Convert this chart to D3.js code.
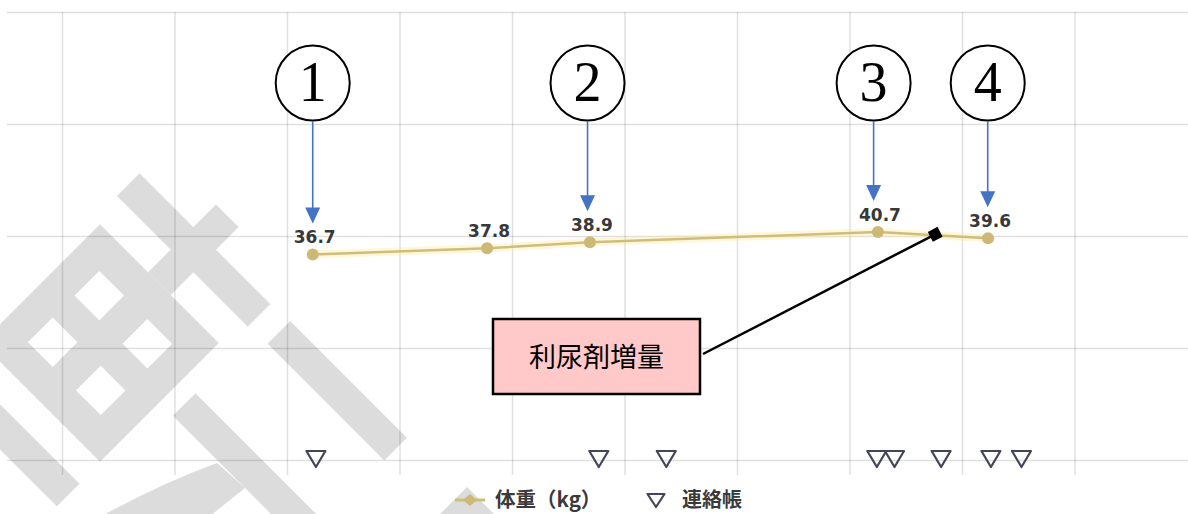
<!DOCTYPE html>
<html>
<head>
<meta charset="utf-8">
<script src="https://cdn.jsdelivr.net/npm/d3@7"></script>
<style>
  html, body { margin: 0; padding: 0; background: #fff; overflow: hidden; }
</style>
</head>
<body>
<div id="chart"></div>
<script>
// 体重 series: day offset from first grid column, kg
const weightDays = [15.6, 26.45, 32.85, 50.77, 57.62];
const weightKg = [36.7, 37.8, 38.9, 40.7, 39.6];

// 連絡帳 entries (day offsets)
const noteDays = [15.8, 33.4, 37.6, 50.7, 51.8, 54.7, 57.8, 59.7];

// grid ticks
const gridDays = [0, 7, 14, 21, 28, 35, 42, 49, 56, 63];
const gridKg = [0, 20, 40, 60, 80];

// circled markers ①..④
const markLabels = ["1", "2", "3", "4"];
const markDays = [15.6, 32.7, 50.5, 57.6];
const markPoint = [0, 2, 3, 4];

const legendLabels = ["体重（kg）", "連絡帳"];
const calloutText = "利尿剤増量";

const width = 1188, height = 514;
const plot = { left: 7, right: 1188, top: 12, bottom: 460 };

const svg = d3.select("#chart").append("svg")
    .attr("width", width)
    .attr("height", height)
    .style("background", "#fff");

const x = d3.scaleLinear().domain([0, 63]).range([62, 1074.5]);
const y = d3.scaleLinear().domain([0, 80]).range([plot.bottom, plot.top]);

// Watermark (big grey glyph strokes, rotated 45deg)
const wmColor = "#dcdcdc";
const wm = svg.append("g").attr("transform", "translate(100,343) rotate(45)").attr("fill", wmColor);
let lattice = "M-84,-84H84V84H-84Z";
[[-34, 33], [34, 33], [-34, -33], [34, -33]].forEach(([u, v]) => {
    lattice += `M${u - 17.5},${-v - 17.5}h35v35h-35Z`;
});
wm.append("path").attr("d", lattice).attr("fill-rule", "evenodd");
[[-16, -180, 32, 96], [-92, -148, 185, 32], [119, -150, 165, 32],
 [103, -32, 347, 32], [-300, 114, 385, 32]].forEach(r => {
    wm.append("rect").attr("x", r[0]).attr("y", r[1]).attr("width", r[2]).attr("height", r[3]);
});
svg.append("path").attr("fill", wmColor)
    .attr("d", "M217,463L245,488L205,520L100,520L107,513Q165,482 217,463Z");
svg.append("path").attr("fill", wmColor)
    .attr("d", "M467,487L500,520L434,520Z");

// Grid
const gridStroke = "rgba(0,0,0,0.12)";
svg.append("g")
    .attr("transform", `translate(0,475)`)
    .call(d3.axisBottom(x).tickValues(gridDays).tickSize(-(475 - plot.top)).tickFormat(""))
    .call(g => g.select(".domain").remove())
    .call(g => g.selectAll("line").attr("stroke", gridStroke).attr("stroke-width", 1.5));

svg.append("g")
    .attr("transform", `translate(${plot.left},0)`)
    .call(d3.axisLeft(y).tickValues(gridKg).tickSize(-(plot.right - plot.left)).tickFormat(""))
    .call(g => g.select(".domain").remove())
    .call(g => g.selectAll("line").attr("stroke", gridStroke).attr("stroke-width", 1.5));

// Weight line
const pts = weightDays.map((d, i) => ({ day: d, kg: weightKg[i] }));
const line = d3.line().x(d => x(d.day)).y(d => y(d.kg));

svg.append("path").datum(pts)
    .attr("d", line)
    .attr("fill", "none")
    .attr("stroke", "rgba(255,232,150,0.35)")
    .attr("stroke-width", 8)
    .attr("stroke-linecap", "round");
svg.append("path").datum(pts)
    .attr("d", line)
    .attr("fill", "none")
    .attr("stroke", "#d0bd7c")
    .attr("stroke-width", 2.5);

svg.selectAll("circle.pt").data(pts).join("circle")
    .attr("class", "pt")
    .attr("cx", d => x(d.day))
    .attr("cy", d => y(d.kg))
    .attr("r", 6)
    .attr("fill", "#cdb875");

svg.selectAll("text.val").data(pts).join("text")
    .attr("class", "val")
    .attr("x", d => x(d.day) + 2)
    .attr("y", d => y(d.kg) - 11)
    .attr("text-anchor", "middle")
    .style("font-family", "'DejaVu Sans', sans-serif")
    .style("font-weight", "bold")
    .style("font-size", "17px")
    .attr("fill", "#383838")
    .text(d => d.kg.toFixed(1));

// 連絡帳 triangles
const tri = "M-9.5,-8L9.5,-8L0,8Z";
svg.selectAll("path.note").data(noteDays).join("path")
    .attr("class", "note")
    .attr("d", tri)
    .attr("transform", d => `translate(${x(d)},${y(0) - 1})`)
    .attr("fill", "none")
    .attr("stroke", "#45455a")
    .attr("stroke-width", 2.2)
    .attr("stroke-linejoin", "round");

// Circled numbers with blue arrows
const marks = markLabels.map((t, i) => ({ t, day: markDays[i], kg: weightKg[markPoint[i]] }));
const mg = svg.selectAll("g.mark").data(marks).join("g").attr("class", "mark");
mg.append("ellipse")
    .attr("cx", d => x(d.day))
    .attr("cy", 83)
    .attr("rx", 37)
    .attr("ry", 37.5)
    .attr("fill", "#fff")
    .attr("stroke", "#000")
    .attr("stroke-width", 2);
mg.append("text")
    .attr("x", d => x(d.day))
    .attr("y", 101)
    .attr("text-anchor", "middle")
    .style("font-family", "'Liberation Serif', serif")
    .style("font-size", "56px")
    .attr("fill", "#000")
    .text(d => d.t);
mg.append("line")
    .attr("x1", d => x(d.day)).attr("x2", d => x(d.day))
    .attr("y1", 121)
    .attr("y2", d => y(d.kg) - 44)
    .attr("stroke", "#4472c4")
    .attr("stroke-width", 1.6);
mg.append("path")
    .attr("d", d => {
        const cx = x(d.day), tip = y(d.kg) - 31;
        return `M${cx - 7.5},${tip - 16}L${cx + 7.5},${tip - 16}L${cx},${tip}Z`;
    })
    .attr("fill", "#4472c4");

// Callout 利尿剤増量
const a = pts[3], b = pts[4], t = 0.52;
const ax = x(a.day) + (x(b.day) - x(a.day)) * t;
const ay = y(a.kg) + (y(b.kg) - y(a.kg)) * t - 1;
const box = { x: 493, y: 319, w: 207, h: 75 };
svg.append("line")
    .attr("x1", box.x + box.w + 3).attr("y1", 354)
    .attr("x2", ax).attr("y2", ay)
    .attr("stroke", "#000")
    .attr("stroke-width", 2.5);
const ang = Math.atan2(ay - 354, ax - (box.x + box.w + 3)) * 180 / Math.PI;
svg.append("rect")
    .attr("x", -5.5).attr("y", -5.5).attr("width", 11).attr("height", 11)
    .attr("transform", `translate(${ax},${ay}) rotate(${ang})`)
    .attr("fill", "#000");
svg.append("rect")
    .attr("x", box.x).attr("y", box.y).attr("width", box.w).attr("height", box.h)
    .attr("fill", "#ffc9c9")
    .attr("stroke", "#000")
    .attr("stroke-width", 2.5);
svg.append("text")
    .attr("x", box.x + box.w / 2)
    .attr("y", box.y + box.h / 2 + 10)
    .attr("text-anchor", "middle")
    .style("font-family", "'Noto Sans CJK JP', sans-serif")
    .style("font-weight", 400)
    .style("font-size", "27px")
    .attr("fill", "#000")
    .text(calloutText);

// Legend
const lg = svg.append("g").attr("transform", "translate(0,500)");
lg.append("line").attr("x1", 455).attr("x2", 485).attr("y1", 0).attr("y2", 0)
    .attr("stroke", "#d0bd7c").attr("stroke-width", 3);
lg.append("path").attr("d", "M470,-6L477,0L470,6L463,0Z").attr("fill", "#cdb875");
lg.append("text").attr("x", 495).attr("y", 7)
    .style("font-family", "'Noto Sans CJK JP', sans-serif")
    .style("font-weight", "bold")
    .style("font-size", "20.5px")
    .attr("fill", "#3a3a3a")
    .text(legendLabels[0]);
lg.append("path").attr("d", "M647.5,-6L664.5,-6L656,7Z")
    .attr("fill", "none").attr("stroke", "#45455a").attr("stroke-width", 2.2)
    .attr("stroke-linejoin", "round");
lg.append("text").attr("x", 682).attr("y", 7)
    .style("font-family", "'Noto Sans CJK JP', sans-serif")
    .style("font-weight", "bold")
    .style("font-size", "20px")
    .attr("fill", "#3a3a3a")
    .text(legendLabels[1]);
</script>
</body>
</html>
